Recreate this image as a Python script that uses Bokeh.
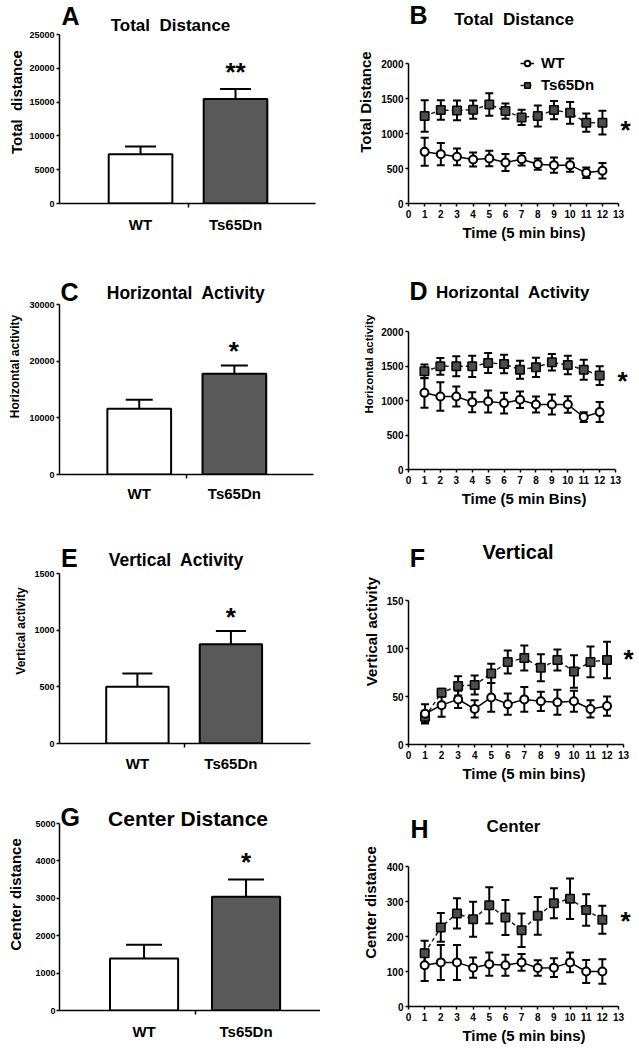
import numpy as np
from bokeh.plotting import figure
from bokeh.layouts import row, column
from bokeh.models import (Range1d, FixedTicker, Label, Whisker, TeeHead,
                          ColumnDataSource, Legend, LegendItem)
from bokeh.embed import file_html
from bokeh.resources import INLINE

FONT = "Liberation Sans"
SP2 = "\u00a0 "  # wide (double) gap as in the original titles

# ---------------- data ----------------
groups = ["WT", "Ts65Dn"]
bins = [1, 2, 3, 4, 5, 6, 7, 8, 9, 10, 11, 12]
bin_ticks = [0, 1, 2, 3, 4, 5, 6, 7, 8, 9, 10, 11, 12, 13]

# A  Total distance (bars)
total_mean = [7300, 15450]
total_sem = [1150, 1500]
total_ticks = [0, 5000, 10000, 15000, 20000, 25000]
# C  Horizontal activity (bars)
horiz_mean = [11600, 17800]
horiz_sem = [1600, 1450]
horiz_ticks = [0, 10000, 20000, 30000]
# E  Vertical activity (bars)
vert_mean = [500, 875]
vert_sem = [118, 118]
vert_ticks = [0, 500, 1000, 1500]
# G  Center distance (bars)
center_mean = [1390, 3040]
center_sem = [370, 460]
center_ticks = [0, 1000, 2000, 3000, 4000, 5000]

# B  Total distance per bin
B_wt = [738, 705, 667, 629, 643, 586, 633, 562, 548, 548, 438, 467]
B_wt_sem = [200, 160, 120, 100, 110, 120, 90, 80, 110, 95, 75, 110]
B_ts = [1250, 1335, 1330, 1340, 1415, 1320, 1230, 1250, 1335, 1295, 1155, 1155]
B_ts_sem = [225, 140, 140, 130, 160, 110, 110, 150, 130, 155, 130, 170]
B_ticks = [0, 500, 1000, 1500, 2000]
# D  Horizontal activity per bin
D_wt = [1111, 1058, 1058, 976, 986, 962, 1010, 942, 942, 942, 760, 832]
D_wt_sem = [215, 205, 145, 145, 160, 150, 120, 115, 145, 120, 70, 145]
D_ts = [1423, 1495, 1495, 1495, 1543, 1529, 1447, 1481, 1553, 1514, 1447, 1361]
D_ts_sem = [100, 120, 145, 155, 145, 135, 130, 140, 120, 135, 145, 135]
D_ticks = [0, 500, 1000, 1500, 2000]
# F  Vertical per bin
F_wt = [32, 41, 47, 37, 49, 42, 47, 45, 44, 45, 37, 40]
F_wt_sem = [10, 12, 9, 9, 15, 11, 13, 10, 13, 11, 9, 10]
F_ts = [29, 54, 61, 62, 74, 86, 90, 80, 88, 76, 86, 88]
F_ts_sem = [6, 4, 10, 10, 10, 12, 13, 14, 11, 17, 16, 19]
F_ticks = [0, 50, 100, 150]
# H  Center per bin
H_wt = [118, 126, 126, 111, 121, 118, 126, 110, 111, 126, 100, 100]
H_wt_sem = [45, 50, 50, 29, 33, 30, 24, 22, 27, 28, 33, 35]
H_ts = [152, 226, 266, 249, 289, 254, 218, 259, 295, 308, 276, 248]
H_ts_sem = [36, 41, 43, 50, 52, 50, 48, 54, 43, 58, 45, 40]
H_ticks = [0, 100, 200, 300, 400]

bar_colors = ["white", "#595959"]


def make_fig(spec):
    ox, oy, w, h = spec["fig"]
    fx0, fy0, fx1, fy1 = spec["frame"]
    x0, x1 = spec["xr"]
    y0, y1 = spec["yr"]
    # plotting frame reaches the top and right edges of the figure so that
    # titles, letters and asterisks (drawn as labels) are not clipped;
    # the axes are bounded to the real data extents.
    x_end = x1 + (ox + w - fx1) * (x1 - x0) / (fx1 - fx0)
    y_end = y1 + (fy0 - oy) * (y1 - y0) / (fy1 - fy0)
    p = figure(width=w, height=h,
               x_range=Range1d(x0, x_end), y_range=Range1d(y0, y_end),
               min_border_left=fx0 - ox, min_border_right=0,
               min_border_top=0, min_border_bottom=oy + h - fy1,
               output_backend="svg", toolbar_location=None, tools="")
    p.outline_line_color = None
    p.xgrid.visible = False
    p.ygrid.visible = False
    p.background_fill_color = "white"
    p.border_fill_color = "white"
    for ax in p.axis:
        ax.axis_line_width = 1.5
        ax.axis_line_color = "black"
        ax.major_tick_line_width = 1.5
        ax.major_tick_line_color = "black"
        ax.minor_tick_line_width = 1.5
        ax.minor_tick_line_color = "black"
        ax.major_tick_in = 0
        ax.major_tick_out = 3
        ax.minor_tick_in = 0
        ax.minor_tick_out = 0
        ax.major_label_text_font = FONT
        ax.major_label_text_font_style = "bold"
        ax.major_label_text_color = "black"
        ax.axis_label_text_font = FONT
        ax.axis_label_text_font_style = "bold"
        ax.axis_label_text_color = "black"
    p.xaxis.bounds = (x0, x1)
    p.yaxis.bounds = (y0, y1)
    p.yaxis.ticker = FixedTicker(ticks=spec["yticks"])
    p.yaxis.major_label_text_font_size = f'{spec["ytick_fs"]}px'
    p.yaxis.major_label_standoff = spec.get("ytick_so", 2)
    p.yaxis.axis_label = spec["ylabel"]
    p.yaxis.axis_label_text_font_size = f'{spec["ylabel_fs"]}px'
    p.yaxis.axis_label_standoff = spec["ylabel_so"]
    return p


def add_text(p, spec, px, py, text, size, shift_em=0.0):
    # (px, py): page position of the visual centre of the text
    fx0, fy0, fx1, fy1 = spec["frame"]
    x0, x1 = spec["xr"]
    y0, y1 = spec["yr"]
    my = py + shift_em * size
    x = x0 + (px - fx0) / (fx1 - fx0) * (x1 - x0)
    y = y0 + (fy1 - my) / (fy1 - fy0) * (y1 - y0)
    p.add_layout(Label(x=x, y=y, text=text, text_font=FONT,
                       text_font_style="bold", text_font_size=f"{size}px",
                       text_align="center", text_baseline="middle",
                       text_color="black"))


def decorate(p, spec):
    lx, ly = spec["letter_pos"]
    add_text(p, spec, lx, ly, spec["letter"], 25)
    tx, ty = spec["title_pos"]
    add_text(p, spec, tx, ty, spec["title"], spec["title_fs"])
    sx, sy = spec["star_pos"]
    add_text(p, spec, sx, sy, spec["star"], 26, shift_em=0.12)


def bar_panel(spec, means, sems):
    p = make_fig(spec)
    xs = list(range(len(groups)))
    src = ColumnDataSource(dict(
        x=xs, top=means,
        upper=[m + s for m, s in zip(means, sems)],
        color=bar_colors))
    p.add_layout(Whisker(source=src, base="x", lower="top", upper="upper",
                         upper_head=TeeHead(size=spec["cap"], line_width=2,
                                            line_color="black"),
                         lower_head=None, line_width=2, line_color="black"))
    p.vbar(x="x", top="top", width=spec["bar_w"], fill_color="color",
           line_color="black", line_width=2, source=src)
    p.xaxis.ticker = FixedTicker(ticks=xs,
                                 minor_ticks=[i + 0.5 for i in xs[:-1]])
    p.xaxis.major_label_overrides = {i: g for i, g in enumerate(groups)}
    p.xaxis.major_tick_out = 0
    p.xaxis.minor_tick_out = 4
    p.xaxis.major_label_text_font_size = "15px"
    p.xaxis.major_label_standoff = spec["xcat_so"]
    decorate(p, spec)
    return p


def series(p, m, s, kind):
    src = ColumnDataSource(dict(
        x=bins, y=m,
        lo=[a - b for a, b in zip(m, s)],
        hi=[a + b for a, b in zip(m, s)]))
    p.add_layout(Whisker(source=src, base="x", lower="lo", upper="hi",
                         upper_head=TeeHead(size=8, line_width=2, line_color="black"),
                         lower_head=TeeHead(size=8, line_width=2, line_color="black"),
                         line_width=2, line_color="black"))
    if kind == "wt":
        ln = p.line("x", "y", source=src, line_color="black", line_width=1.5)
        sc = p.scatter("x", "y", source=src, marker="circle", size=8,
                       fill_color="white", line_color="black", line_width=2)
    else:
        ln = p.line("x", "y", source=src, line_color="#222222", line_width=1.5,
                    line_dash="4 3")
        sc = p.scatter("x", "y", source=src, marker="square", size=8.5,
                       fill_color="#4d4d4d", line_color="black", line_width=1.5)
    return ln, sc


def line_panel(spec, wt, wt_sem, ts, ts_sem, legend=False):
    p = make_fig(spec)
    ts_r = series(p, ts, ts_sem, "ts")
    wt_r = series(p, wt, wt_sem, "wt")
    p.xaxis.ticker = FixedTicker(ticks=bin_ticks)
    p.xaxis.major_label_text_font_size = "10px"
    p.xaxis.major_label_standoff = 3
    p.xaxis.axis_label = spec["xlabel"]
    p.xaxis.axis_label_text_font_size = "15px"
    p.xaxis.axis_label_standoff = spec.get("xlabel_so", 3)
    if legend:
        lg = Legend(items=[LegendItem(label="WT", renderers=list(wt_r)),
                           LegendItem(label="Ts65Dn", renderers=list(ts_r))],
                    location=spec["legend_loc"], orientation="vertical",
                    border_line_color=None, background_fill_alpha=0,
                    padding=0, margin=0, spacing=5,
                    glyph_width=14, glyph_height=16, label_height=16,
                    label_standoff=7, label_text_font=FONT,
                    label_text_font_style="bold", label_text_font_size="15px",
                    label_text_color="black")
        p.add_layout(lg)
    decorate(p, spec)
    return p


# ---------------- layout specs (page pixels) ----------------
A = dict(fig=(0, 0, 320, 258), frame=(59, 34, 315, 203), xr=(-0.853, 1.842),
         yr=(0, 25000), yticks=total_ticks, ytick_fs=9, ylabel="Total" + SP2 + "distance",
         ylabel_fs=15, ylabel_so=1, bar_w=0.67, cap=31, xcat_so=8,
         letter="A", letter_pos=(70, 15), title="Total" + SP2 + "Distance", title_fs=17,
         title_pos=(170, 25), star="**", star_pos=(235, 68))
C = dict(fig=(0, 258, 320, 260), frame=(58, 304, 313, 474), xr=(-0.838, 1.832),
         yr=(0, 30000), yticks=horiz_ticks, ytick_fs=9, ylabel="Horizontal activity",
         ylabel_fs=12, ylabel_so=4, bar_w=0.67, cap=27, xcat_so=6,
         letter="C", letter_pos=(68, 291), title="Horizontal" + SP2 + "Activity", title_fs=17.5,
         title_pos=(185, 292), star="*", star_pos=(233, 347))
E = dict(fig=(0, 518, 320, 260), frame=(52, 573, 310, 743), xr=(-0.833, 1.854),
         yr=(0, 1500), yticks=vert_ticks, ytick_fs=9, ylabel="Vertical activity",
         ylabel_fs=12, ylabel_so=3, bar_w=0.667, cap=30, xcat_so=7,
         letter="E", letter_pos=(62, 557), title="Vertical" + SP2 + "Activity", title_fs=17.5,
         title_pos=(172, 559), star="*", star_pos=(228, 613))
G = dict(fig=(0, 778, 320, 268), frame=(50, 823, 320, 1010), xr=(-0.829, 1.73),
         yr=(0, 5000), yticks=center_ticks, ytick_fs=9, ytick_so=1, ylabel="Center distance",
         ylabel_fs=15, ylabel_so=8, bar_w=0.668, cap=36, xcat_so=8,
         letter="G", letter_pos=(61, 816), title="Center Distance", title_fs=21,
         title_pos=(183, 818), star="*", star_pos=(243, 858))

B = dict(fig=(320, 0, 319, 258), frame=(407, 63, 618, 203), xr=(0, 13),
         yr=(0, 2000), yticks=B_ticks, ytick_fs=10, ylabel="Total Distance",
         ylabel_fs=15, ylabel_so=4, xlabel="Time (5 min bins)",
         letter="B", letter_pos=(417, 14), title="Total" + SP2 + "Distance", title_fs=17,
         title_pos=(513, 19), star="*", star_pos=(625, 126),
         legend_loc=(112, 110))
D = dict(fig=(320, 258, 319, 260), frame=(407, 331, 615, 469), xr=(0, 13),
         yr=(0, 2000), yticks=D_ticks, ytick_fs=10, ylabel="Horizontal activity",
         ylabel_fs=11.5, ylabel_so=3, xlabel="Time (5 min Bins)",
         letter="D", letter_pos=(417, 290), title="Horizontal" + SP2 + "Activity", title_fs=17,
         title_pos=(512, 292), star="*", star_pos=(622, 377))
F = dict(fig=(320, 518, 319, 280), frame=(407, 600, 623, 744), xr=(0, 13),
         yr=(0, 150), yticks=F_ticks, ytick_fs=10, ylabel="Vertical activity",
         ylabel_fs=15, ylabel_so=4, xlabel="Time (5 min bins)",
         letter="F", letter_pos=(416, 557), title="Vertical", title_fs=20,
         title_pos=(517, 551), star="*", star_pos=(628, 655))
H = dict(fig=(320, 798, 319, 248), frame=(408, 866, 618, 1006), xr=(0, 13),
         yr=(0, 400), yticks=H_ticks, ytick_fs=10, ylabel="Center distance",
         ylabel_fs=15, ylabel_so=5, xlabel="Time (5 min bins)",
         letter="H", letter_pos=(419, 828), title="Center", title_fs=17,
         title_pos=(513, 826), star="*", star_pos=(625, 917))

pA = bar_panel(A, total_mean, total_sem)
pC = bar_panel(C, horiz_mean, horiz_sem)
pE = bar_panel(E, vert_mean, vert_sem)
pG = bar_panel(G, center_mean, center_sem)
pB = line_panel(B, B_wt, B_wt_sem, B_ts, B_ts_sem, legend=True)
pD = line_panel(D, D_wt, D_wt_sem, D_ts, D_ts_sem)
pF = line_panel(F, F_wt, F_wt_sem, F_ts, F_ts_sem)
pH = line_panel(H, H_wt, H_wt_sem, H_ts, H_ts_sem)

layout = row(column(pA, pC, pE, pG), column(pB, pD, pF, pH))

with open("out.html", "w") as f:
    f.write(file_html(layout, INLINE, "Activity"))
